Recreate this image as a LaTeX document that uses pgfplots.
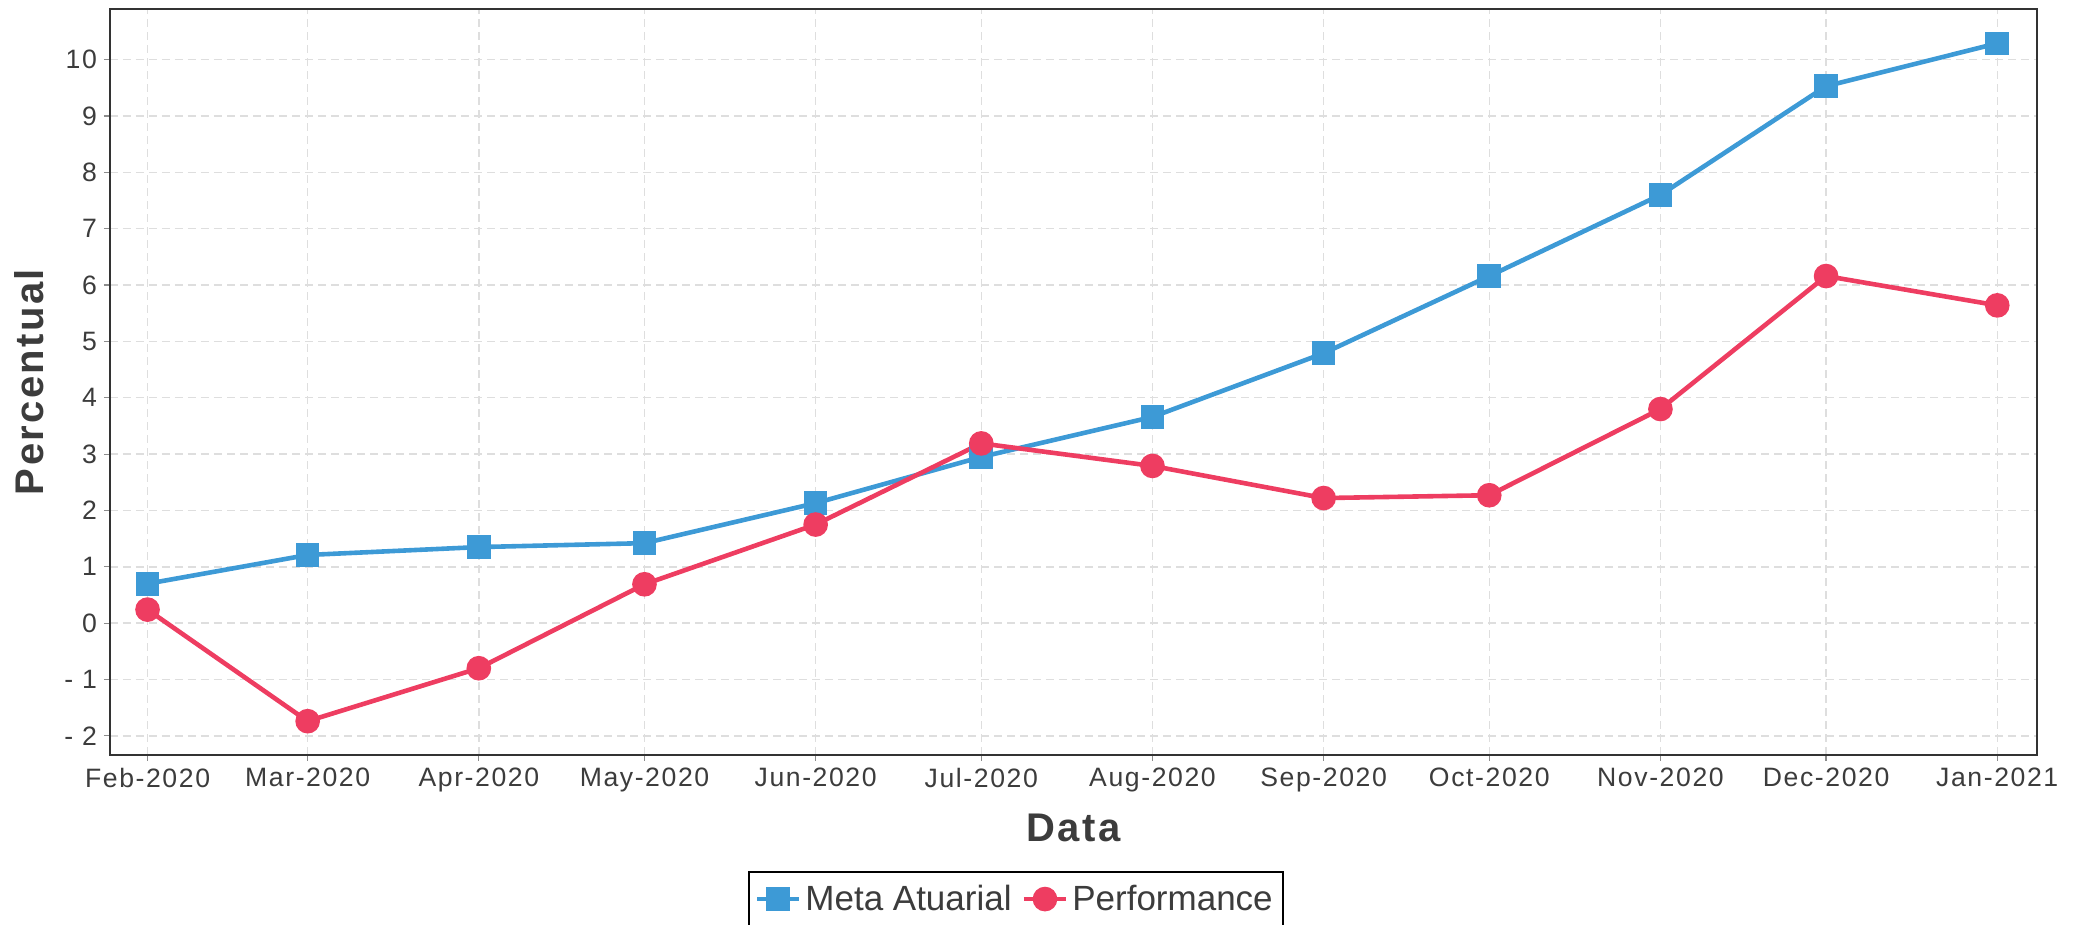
\documentclass[border=0pt]{standalone}
\usepackage{pgfplots}
\pgfplotsset{compat=1.18}
\usepackage{fontspec}
\setmainfont{Liberation Sans}
\newfontfamily\tickfont[LetterSpace=6]{Liberation Sans}
\newfontfamily\labfont[LetterSpace=6]{Liberation Sans}
\definecolor{cblue}{RGB}{61,154,214}
\definecolor{cred}{RGB}{238,61,97}
\definecolor{txt}{RGB}{60,60,60}
\definecolor{gridc}{RGB}{222,222,222}
\begin{document}
\begin{tikzpicture}
\begin{axis}[
  at={(0,0)}, anchor=south west,
  scale only axis, width=963.5pt, height=373pt,
  xmin=-6.8, xmax=342.2, ymin=-2.34, ymax=10.9,
  xtick={0,29,60,90,121,151,182,213,243,274,304,335},
  xticklabels={Feb-2020,Mar-2020,Apr-2020,May-2020,Jun-2020,Jul-2020,Aug-2020,Sep-2020,Oct-2020,Nov-2020,Dec-2020,Jan-2021},
  ytick={-2,-1,0,1,2,3,4,5,6,7,8,9,10},
  yticklabels={- 2,- 1,0,1,2,3,4,5,6,7,8,9,10},
  tick align=outside, xtick pos=bottom, ytick pos=left,
  major tick length=3pt,
  tick style={black!45, line width=0.6pt},
  grid=major,
  major grid style={gridc, dash pattern=on 4pt off 2.5pt, line width=0.7pt},
  axis line style={black!80, line width=0.8pt},
  ticklabel style={font=\tickfont\fontsize{13.3}{13.3}\selectfont, text=txt},
  xlabel={Data}, ylabel={Percentual},
  label style={font=\labfont\bfseries\fontsize{20}{20}\selectfont, text=txt},
  xlabel style={at={(axis description cs:0.5,-0.098)}, anchor=center},
  ylabel style={at={(axis description cs:-0.042,0.5)}, anchor=center},
  legend columns=2,
  legend style={at={(0.47,-0.1555)}, anchor=north, draw=black, line width=0.9pt,
    font=\fontsize{17.5}{17.5}\selectfont, text=txt, inner ysep=4.5pt,
    /tikz/every even column/.append style={column sep=3pt}},
  legend image code/.code={\draw[mark repeat=2,mark phase=2] plot coordinates {(0cm,0cm) (0.37cm,0cm) (0.74cm,0cm)};},
]
\addplot[cblue, line width=2.3pt, mark=square*, mark size=4.75pt, mark options={solid}] coordinates {
  (0,0.70) (29,1.21) (60,1.35) (90,1.42) (121,2.13) (151,2.95)
  (182,3.66) (213,4.79) (243,6.16) (274,7.60) (304,9.53) (335,10.29)
};
\addlegendentry{Meta Atuarial}
\addplot[cred, line width=2.3pt, mark=*, mark size=5pt, mark options={solid}] coordinates {
  (0,0.24) (29,-1.74) (60,-0.80) (90,0.69) (121,1.75) (151,3.19)
  (182,2.79) (213,2.22) (243,2.27) (274,3.80) (304,6.16) (335,5.64)
};
\addlegendentry{Performance}
\end{axis}
\pgfresetboundingbox
\useasboundingbox (-55pt,-85pt) rectangle (986.5pt,377.5pt);
\end{tikzpicture}
\end{document}
